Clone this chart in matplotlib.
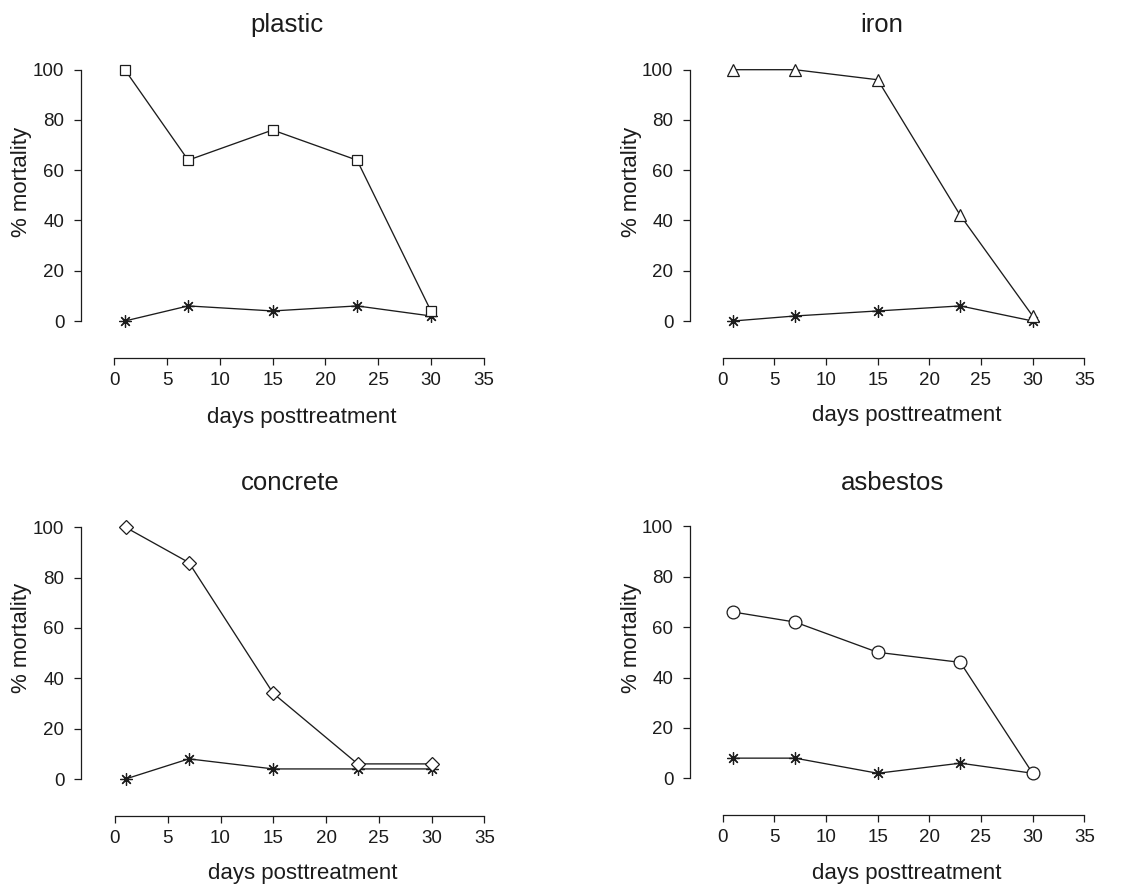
import numpy as np
import matplotlib
matplotlib.use("Agg")
import matplotlib.pyplot as plt

# days after treatment
days = [1, 7, 15, 23, 30]

materials = ["plastic", "iron", "concrete", "asbestos"]

# % mortality, treated surface vs control
plastic_treated = [100, 64, 76, 64, 4]
plastic_control = [0, 6, 4, 6, 2]
iron_treated = [100, 100, 96, 42, 2]
iron_control = [0, 2, 4, 6, 0]
concrete_treated = [100, 86, 34, 6, 6]
concrete_control = [0, 8, 4, 4, 4]
asbestos_treated = [66, 62, 50, 46, 2]
asbestos_control = [8, 8, 2, 6, 2]

x_ticks = [0, 5, 10, 15, 20, 25, 30, 35]
y_ticks = [0, 20, 40, 60, 80, 100]

treated = [plastic_treated, iron_treated, concrete_treated, asbestos_treated]
control = [plastic_control, iron_control, concrete_control, asbestos_control]

W, H = 1143, 888
INK = "#1c1c1c"

# marker style per panel: (marker, markersize)
mstyles = [("s", 7.3), ("^", 8.2), ("D", 7.2), ("o", 9.2)]

# pixel anchors of each panel: y-spine x, x=0, x=35, x-spine y, y=0, y=100,
# title centre, x-label centre, y-label centre
layout = [
    dict(sx=81, x0=114.3, x35=483.7, sy=358, y0=321, y100=69.7,
         title=(287, 25), xlab=(302, 417), ylab=(22, 182)),
    dict(sx=690, x0=722.7, x35=1084.3, sy=358, y0=321, y100=69.7,
         title=(882, 25), xlab=(907, 415), ylab=(632, 182)),
    dict(sx=81, x0=115, x35=484.3, sy=815.7, y0=779, y100=527.3,
         title=(290, 483), xlab=(303, 873), ylab=(22, 638)),
    dict(sx=690, x0=722.7, x35=1084.3, sy=815, y0=778.3, y100=526.3,
         title=(893, 483), xlab=(907, 873), ylab=(632, 638)),
]

plt.rcParams["font.family"] = ["Liberation Sans", "DejaVu Sans"]

fig = plt.figure(figsize=(W / 100, H / 100), dpi=100)
fig.patch.set_facecolor("white")

for i, name in enumerate(materials):
    L = layout[i]
    xs = (L["x35"] - L["x0"]) / 35.0
    ys = (L["y0"] - L["y100"]) / 100.0
    right = L["x35"] + 10
    top = L["y100"] - 10
    ax = fig.add_axes([L["sx"] / W, 1 - L["sy"] / H,
                       (right - L["sx"]) / W, (L["sy"] - top) / H])
    ax.set_xlim(-(L["x0"] - L["sx"]) / xs, 35 + 10 / xs)
    ax.set_ylim(-(L["sy"] - L["y0"]) / ys, 100 + 10 / ys)
    ax.patch.set_alpha(0)

    ax.plot(days, control[i], color=INK, lw=0.95, marker=(8, 2, 0), ms=8.8,
            mew=0.9, mec=INK, clip_on=False, zorder=3)
    m, ms = mstyles[i]
    ax.plot(days, treated[i], color=INK, lw=0.95, marker=m, ms=ms,
            mfc="white", mec=INK, mew=0.9, clip_on=False, zorder=4)

    for s in ["top", "right"]:
        ax.spines[s].set_visible(False)
    ax.spines["left"].set_bounds(0, 100)
    ax.spines["bottom"].set_bounds(0, 35)
    for s in ["left", "bottom"]:
        ax.spines[s].set_linewidth(0.9)
        ax.spines[s].set_color(INK)
    ax.set_xticks(x_ticks)
    ax.set_yticks(y_ticks)
    ax.tick_params(direction="out", length=5, width=0.9, color=INK,
                   labelsize=13.5, labelcolor=INK)
    ax.tick_params(axis="y", pad=7)
    ax.tick_params(axis="x", pad=5)

    fig.text(L["title"][0] / W, 1 - L["title"][1] / H, name, ha="center",
             va="center", fontsize=18.5, color=INK)
    fig.text(L["xlab"][0] / W, 1 - L["xlab"][1] / H, "days posttreatment",
             ha="center", va="center", fontsize=16, color=INK)
    fig.text(L["ylab"][0] / W, 1 - L["ylab"][1] / H, "% mortality",
             ha="center", va="center", rotation=90, fontsize=16, color=INK)

fig.savefig("out.png", dpi=100)
